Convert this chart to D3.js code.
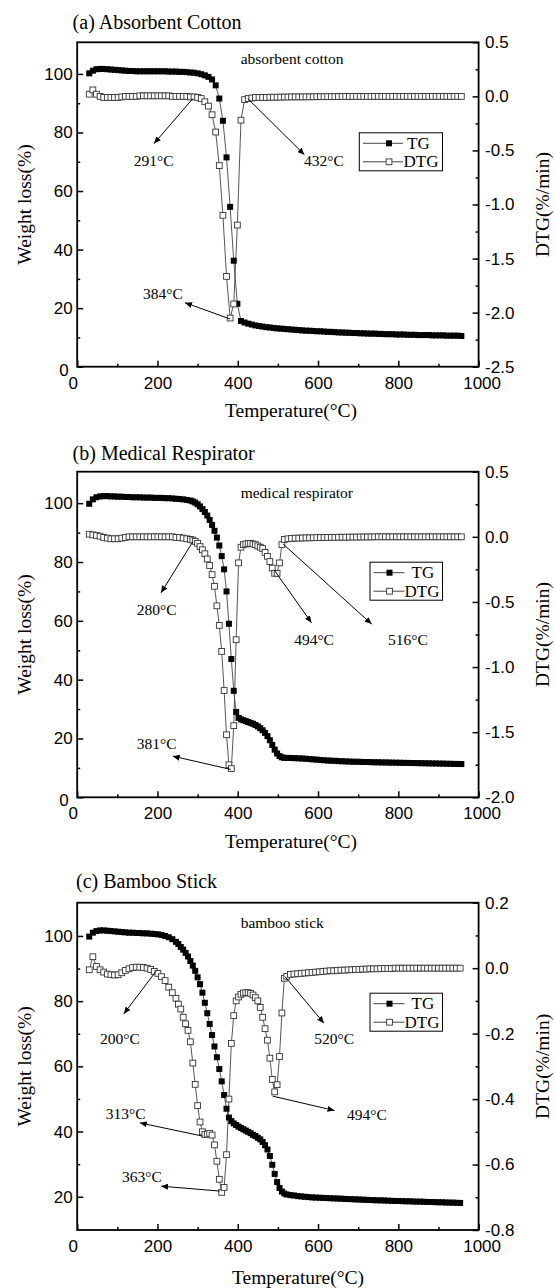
<!DOCTYPE html>
<html><head><meta charset="utf-8">
<script src="https://cdn.jsdelivr.net/npm/d3@7"></script>
<style>html,body{margin:0;padding:0;background:#fff;}svg{display:block;}</style>
</head><body>
<svg id="chart" width="555" height="1288"></svg>
<script>
// ---------------- DATA ----------------
const xTickValues = [0, 200, 400, 600, 800, 1000];
const leftTicksAB = [0, 20, 40, 60, 80, 100];
const leftTicksC = [20, 40, 60, 80, 100];
const rightTicksA = [0.5, 0.0, -0.5, -1.0, -1.5, -2.0, -2.5];
const rightTicksB = [0.5, 0.0, -0.5, -1.0, -1.5, -2.0];
const rightTicksC = [0.2, 0.0, -0.2, -0.4, -0.6, -0.8];
const seriesNames = ["TG", "DTG"];

// (a) Absorbent Cotton
const tempA = [30,39,48,57,66,75,84,93,102,111,
  120,129,138,147,156,165,174,183,192,201,
  210,219,228,237,246,255,264,273,282,291,
  300,309,318,327,336,345,354,363,372,381,
  390,399,408,417,426,435,444,453,462,471,
  480,489,498,507,516,525,534,543,552,561,
  570,579,588,597,606,615,624,633,642,651,
  660,669,678,687,696,705,714,723,732,741,
  750,759,768,777,786,795,804,813,822,831,
  840,849,858,867,876,885,894,903,912,921,
  930,939,948,957];
const tgA = [100.2,101.1,101.6,101.7,101.7,101.6,101.5,101.4,101.3,101.2,
  101.1,101.0,101.0,100.9,100.9,100.9,100.9,100.9,100.9,100.9,
  100.9,100.9,100.8,100.8,100.8,100.7,100.7,100.6,100.5,100.4,
  100.2,99.9,99.5,99.0,98.1,96.1,91.6,84.0,71.5,54.6,
  36.2,21.5,15.6,15.1,14.7,14.4,14.1,13.9,13.7,13.5,
  13.4,13.2,13.1,13.0,12.9,12.8,12.7,12.6,12.5,12.4,
  12.3,12.3,12.2,12.1,12.1,12.0,11.9,11.9,11.8,11.7,
  11.7,11.6,11.6,11.5,11.5,11.4,11.4,11.3,11.3,11.3,
  11.2,11.2,11.1,11.1,11.1,11.0,11.0,11.0,10.9,10.9,
  10.9,10.8,10.8,10.8,10.8,10.7,10.7,10.7,10.7,10.6,
  10.6,10.6,10.6,10.5];
const dtgA = [0.02,0.06,0.02,0.0,-0.01,-0.01,-0.01,-0.01,-0.01,-0.005,
  0.0,0.0,0.0,0.0,0.005,0.005,0.005,0.005,0.005,0.005,
  0.005,0.005,0.005,0.0,0.0,0.0,0.0,0.0,-0.005,-0.005,
  -0.01,-0.02,-0.05,-0.09,-0.17,-0.33,-0.64,-1.10,-1.665,-2.05,
  -1.92,-1.19,-0.22,-0.03,-0.02,-0.015,-0.01,-0.01,-0.01,-0.01,
  -0.008,-0.008,-0.007,-0.007,-0.006,-0.006,-0.005,-0.005,-0.005,-0.005,
  -0.004,-0.004,-0.004,-0.003,-0.003,-0.003,-0.002,-0.002,-0.002,-0.002,
  -0.001,-0.001,-0.001,-0.001,0.0,0.0,0.0,0.0,0.0,0.0,
  0.0,0.0,0.0,0.0,0.0,0.0,0.0,0.0,0.0,0.0,
  0.0,0.0,0.0,0.0,0.0,0.0,0.0,0.0,0.0,0.0,
  0.0,0.0,0.0,0.0];

// (b) Medical Respirator
const tempB = [30,39,48,57,66,75,84,93,102,111,
  120,129,138,147,156,165,174,183,192,201,
  210,219,228,237,246,255,264,273,282,
  288,294,300,306,312,318,324,330,336,342,
  348,354,360,366,372,378,384,390,396,402,
  408,414,420,426,432,438,444,450,456,462,
  468,474,480,486,492,498,504,510,516,
  525,534,543,552,561,570,579,588,597,606,
  615,624,633,642,651,660,669,678,687,696,
  705,714,723,732,741,750,759,768,777,786,
  795,804,813,822,831,840,849,858,867,876,
  885,894,903,912,921,930,939,948,957];
const tgB = [99.8,101.3,102.0,102.3,102.4,102.4,102.3,102.3,102.2,102.2,
  102.1,102.1,102.0,102.0,102.0,101.9,101.9,101.9,101.8,101.8,
  101.8,101.7,101.7,101.6,101.5,101.4,101.3,101.1,100.9,
  100.6,100.2,99.6,98.9,98.0,97.0,95.8,94.3,92.6,90.6,
  88.3,85.6,82.0,77.5,70.0,59.0,47.0,36.2,29.0,27.0,
  26.5,26.2,25.9,25.6,25.3,25.0,24.6,24.1,23.5,22.8,
  21.9,20.8,19.4,17.8,16.2,14.9,14.0,13.6,13.4,
  13.4,13.35,13.3,13.25,13.2,13.1,13.0,12.9,12.8,12.7,
  12.6,12.5,12.45,12.4,12.3,12.25,12.2,12.15,12.1,12.1,
  12.05,12.0,12.0,11.95,11.9,11.9,11.85,11.85,11.8,11.8,
  11.75,11.75,11.7,11.7,11.65,11.65,11.6,11.6,11.55,11.55,
  11.5,11.5,11.45,11.45,11.4,11.4,11.35,11.35,11.3];
const dtgB = [0.02,0.015,0.01,0.005,-0.005,-0.01,-0.015,-0.015,-0.015,-0.01,
  -0.005,0.0,0.0,0.0,0.0,0.0,0.0,0.0,0.0,0.0,
  0.0,0.0,0.0,0.0,-0.005,-0.005,-0.01,-0.015,-0.02,
  -0.025,-0.035,-0.05,-0.075,-0.10,-0.13,-0.17,-0.22,-0.29,-0.38,
  -0.53,-0.68,-0.88,-1.18,-1.52,-1.75,-1.78,-1.45,-0.79,-0.20,
  -0.08,-0.06,-0.055,-0.05,-0.05,-0.055,-0.06,-0.07,-0.08,-0.09,
  -0.12,-0.15,-0.19,-0.24,-0.28,-0.28,-0.20,-0.06,-0.02,
  -0.015,-0.012,-0.01,-0.01,-0.009,-0.008,-0.008,-0.007,-0.006,-0.006,
  -0.005,-0.005,-0.004,-0.004,-0.003,-0.003,-0.003,-0.002,-0.002,-0.002,
  -0.001,-0.001,-0.001,-0.001,0.0,0.0,0.0,0.0,0.0,0.0,
  0.0,0.0,0.0,0.0,0.0,0.0,0.0,0.0,0.0,0.0,
  0.0,0.0,0.0,0.0,0.0,0.0,0.0,0.0,0.0];

// (c) Bamboo Stick
const tempC = [30,39,48,57,66,75,84,93,102,111,
  120,129,138,147,156,165,174,183,192,201,
  210,219,228,237,246,
  252,258,264,270,276,282,288,294,300,306,
  312,318,324,330,336,342,348,354,360,366,
  372,378,384,390,396,402,408,414,420,426,
  432,438,444,450,456,462,468,474,480,486,
  492,498,504,510,516,522,
  531,540,549,558,567,576,585,594,603,612,
  621,630,639,648,657,666,675,684,693,702,
  711,720,729,738,747,756,765,774,783,792,
  801,810,819,828,837,846,855,864,873,882,
  891,900,909,918,927,936,945,954];
const tgC = [99.8,101.0,101.5,101.7,101.7,101.6,101.5,101.4,101.3,101.2,
  101.1,101.0,101.0,100.9,100.9,100.8,100.8,100.7,100.6,100.5,
  100.3,100.0,99.6,99.0,98.2,
  97.5,96.6,95.8,94.8,93.7,92.3,90.9,89.3,87.3,85.2,
  82.6,79.5,76.3,73.0,69.6,66.1,62.8,59.2,55.4,51.2,
  47.0,44.3,43.2,42.5,42.0,41.5,41.1,40.7,40.3,39.9,
  39.5,39.0,38.6,38.1,37.6,36.8,35.8,34.5,32.5,29.8,
  27.0,24.5,22.7,21.6,21.0,20.7,
  20.5,20.4,20.2,20.1,20.0,19.9,19.8,19.75,19.7,19.65,
  19.6,19.55,19.5,19.45,19.4,19.35,19.3,19.25,19.2,19.15,
  19.1,19.05,19.0,18.95,18.9,18.9,18.85,18.8,18.75,18.7,
  18.7,18.65,18.6,18.6,18.55,18.5,18.5,18.45,18.4,18.4,
  18.35,18.3,18.3,18.25,18.2,18.2,18.15,18.1];
const dtgC = [-0.005,0.035,0.005,-0.005,-0.012,-0.018,-0.02,-0.021,-0.02,-0.014,
  -0.007,-0.002,0.002,0.003,0.003,0.002,0.0,-0.004,-0.01,-0.016,
  -0.026,-0.038,-0.058,-0.075,-0.092,
  -0.11,-0.125,-0.15,-0.17,-0.19,-0.225,-0.29,-0.355,-0.42,-0.47,
  -0.50,-0.508,-0.507,-0.505,-0.51,-0.54,-0.59,-0.645,-0.685,-0.67,
  -0.57,-0.40,-0.23,-0.145,-0.10,-0.088,-0.08,-0.076,-0.075,-0.075,
  -0.077,-0.082,-0.09,-0.10,-0.12,-0.15,-0.185,-0.22,-0.275,-0.34,
  -0.378,-0.356,-0.27,-0.137,-0.031,-0.025,
  -0.019,-0.018,-0.017,-0.016,-0.015,-0.014,-0.013,-0.012,-0.011,-0.010,
  -0.009,-0.008,-0.008,-0.007,-0.006,-0.006,-0.005,-0.005,-0.004,-0.004,
  -0.003,-0.003,-0.002,-0.002,-0.002,-0.001,-0.001,-0.001,-0.001,0.0,
  0.0,0.0,0.0,0.0,0.0,0.0,0.0,0.0,0.0,0.0,
  0.0,0.0,0.0,0.0,0.0,0.0,0.0,0.0];

// ---------------- LAYOUT ----------------
const SANS = '"Liberation Sans", Arial, Helvetica, sans-serif';
const SERIF = '"Liberation Serif", "Times New Roman", Times, serif';
const plotLeft = 77.2, plotRight = 478.6;

const panels = [
  { title: "(a) Absorbent Cotton", titleX: 72.6, titleY: 28.5,
    top: 42.3, bottom: 366.7, yL: [0, 110.8], yR: [-2.5, 0.5],
    lTicks: leftTicksAB, lMinorStep: 10, rTicks: rightTicksA, rMinorStep: 0.25,
    temp: tempA, tg: tgA, dtg: dtgA,
    sample: "absorbent cotton", sampleY: 0.302,
    xTitleX: 291, xTitleY: 416.5,
    legend: { x: 359.3, w: 83.2, lx0: 363, lx1: 403, mx: 389, tgX: 407, dtgX: 403.5 },
    notes: [
      { text: "291°C", from: [288, -0.021], to: [191.3, -0.437], label: [190.3, -0.641] },
      { text: "432°C", from: [425, -0.021], to: [566, -0.539], label: [614.8, -0.641] },
      { text: "384°C", from: [381, -2.059], to: [268.6, -1.908], label: [213.8, -1.876] }
    ] },
  { title: "(b) Medical Respirator", titleX: 72.6, titleY: 459.5,
    top: 471.7, bottom: 797.3, yL: [0, 110.7], yR: [-2.0, 0.5],
    lTicks: leftTicksAB, lMinorStep: 10, rTicks: rightTicksB, rMinorStep: 0.25,
    temp: tempB, tg: tgB, dtg: dtgB,
    sample: "medical respirator", sampleY: 0.297,
    xTitleX: 291, xTitleY: 848,
    legend: { x: 370, w: 72.5, lx0: 373.5, lx1: 404.5, mx: 389.5, tgX: 411.5, dtgX: 404.5 },
    notes: [
      { text: "280°C", from: [288, -0.038], to: [208.8, -0.430], label: [197.8, -0.601] },
      { text: "494°C", from: [491, -0.256], to: [583.7, -0.660], label: [590, -0.832] },
      { text: "516°C", from: [513.2, -0.056], to: [733.7, -0.670], label: [824, -0.832] },
      { text: "381°C", from: [382.7, -1.786], to: [238, -1.684], label: [197.8, -1.630] }
    ] },
  { title: "(c) Bamboo Stick", titleX: 76, titleY: 888,
    top: 902.7, bottom: 1230, yL: [9.8, 110.2], yR: [-0.8, 0.2],
    lTicks: leftTicksC, lMinorStep: 10, rTicks: rightTicksC, rMinorStep: 0.1,
    temp: tempC, tg: tgC, dtg: dtgC,
    sample: "bamboo stick", sampleY: 0.123,
    xTitleX: 298, xTitleY: 1284,
    legend: { x: 370, w: 72.5, lx0: 373.5, lx1: 404.5, mx: 389.5, tgX: 411.5, dtgX: 404.5 },
    notes: [
      { text: "200°C", from: [195.8, -0.0104], to: [116.3, -0.1396], label: [106.6, -0.2313] },
      { text: "520°C", from: [517.7, -0.0257], to: [614.6, -0.168], label: [640.3, -0.2313] },
      { text: "313°C", from: [312.2, -0.513], to: [156, -0.4727], label: [120.8, -0.4604] },
      { text: "363°C", from: [354.5, -0.681], to: [208.8, -0.666], label: [161.4, -0.653] },
      { text: "494°C", from: [486.8, -0.391], to: [641, -0.435], label: [721.7, -0.463] }
    ] }
];

// ---------------- DRAW ----------------
const svg = d3.select("#chart");
svg.append("rect").attr("width", 555).attr("height", 1288).attr("fill", "#fff");

svg.append("defs").append("marker")
  .attr("id", "arrowhead").attr("markerUnits", "userSpaceOnUse")
  .attr("markerWidth", 8).attr("markerHeight", 6)
  .attr("refX", 7).attr("refY", 3).attr("orient", "auto")
  .append("path").attr("d", "M0,0 L7,3 L0,6 Z").attr("fill", "#000");

const x = d3.scaleLinear().domain([0, 1000]).range([plotLeft, plotRight]);
const fmt1 = d => d.toFixed(1);

panels.forEach(p => {
  const g = svg.append("g");
  const yL = d3.scaleLinear().domain(p.yL).range([p.bottom, p.top]);
  const yR = d3.scaleLinear().domain(p.yR).range([p.bottom, p.top]);
  const pts = p.temp.map((t, i) => ({ t: t, w: p.tg[i], d: p.dtg[i] }));

  // lines
  g.append("path").datum(pts)
    .attr("d", d3.line().x(d => x(d.t)).y(d => yL(d.w)))
    .attr("fill", "none").attr("stroke", "#444").attr("stroke-width", 0.9);
  g.append("path").datum(pts)
    .attr("d", d3.line().x(d => x(d.t)).y(d => yR(d.d)))
    .attr("fill", "none").attr("stroke", "#444").attr("stroke-width", 0.9);

  // markers
  const sT = 6, sD = 5.8;
  g.append("g").selectAll("rect").data(pts).join("rect")
    .attr("x", d => x(d.t) - sT / 2).attr("y", d => yL(d.w) - sT / 2)
    .attr("width", sT).attr("height", sT).attr("fill", "#000");
  g.append("g").selectAll("rect").data(pts).join("rect")
    .attr("x", d => x(d.t) - sD / 2).attr("y", d => yR(d.d) - sD / 2)
    .attr("width", sD).attr("height", sD).attr("fill", "#fff")
    .attr("stroke", "#333").attr("stroke-width", 0.9);

  // frame
  g.append("rect").attr("x", plotLeft).attr("y", p.top)
    .attr("width", plotRight - plotLeft).attr("height", p.bottom - p.top)
    .attr("fill", "none").attr("stroke", "#000").attr("stroke-width", 1.8);

  // axes
  const styleAxis = sel => {
    sel.select(".domain").remove();
    sel.selectAll("line").attr("stroke", "#000").attr("stroke-width", 1.5);
    sel.selectAll("text").attr("fill", "#000").style("font-family", SANS).style("font-size", "17px");
  };
  // bottom
  const xMinor = d3.range(100, 1000, 200);
  const gxMinor = g.append("g").attr("transform", `translate(0,${p.bottom})`)
    .call(d3.axisBottom(x).tickValues(xMinor).tickSize(-3).tickSizeOuter(0).tickFormat(""));
  styleAxis(gxMinor);
  const gx = g.append("g").attr("transform", `translate(0,${p.bottom})`)
    .call(d3.axisBottom(x).tickValues(xTickValues).tickSize(-6).tickSizeOuter(0).tickPadding(10).tickFormat(d3.format("d")));
  styleAxis(gx);
  gx.selectAll(".tick text").attr("dx", d => d === 0 ? -4.5 : (d === 1000 ? 3 : 0));

  // left
  const lMin = [];
  for (let v = Math.ceil(p.yL[0] / p.lMinorStep) * p.lMinorStep; v <= p.yL[1]; v += p.lMinorStep) {
    if (!p.lTicks.includes(v) && Math.abs(yL(v) - p.top) > 3 && Math.abs(yL(v) - p.bottom) > 3) lMin.push(v);
  }
  const gyMinor = g.append("g").attr("transform", `translate(${plotLeft},0)`)
    .call(d3.axisLeft(yL).tickValues(lMin).tickSize(-3).tickSizeOuter(0).tickFormat(""));
  styleAxis(gyMinor);
  const gy = g.append("g").attr("transform", `translate(${plotLeft},0)`)
    .call(d3.axisLeft(yL).tickValues(p.lTicks).tickSize(-6).tickSizeOuter(0).tickPadding(4.5).tickFormat(d3.format("d")));
  styleAxis(gy);
  gy.selectAll(".tick text").attr("dx", d => d === 0 ? -4 : 0).attr("dy", d => d === 0 ? "0.5em" : "0.32em");

  // right
  const rMin = [];
  const nR = Math.round((p.yR[1] - p.yR[0]) / p.rMinorStep);
  for (let i = 1; i < nR; i += 2) rMin.push(+(p.yR[0] + i * p.rMinorStep).toFixed(3));
  const gyrMinor = g.append("g").attr("transform", `translate(${plotRight},0)`)
    .call(d3.axisRight(yR).tickValues(rMin).tickSize(-3).tickSizeOuter(0).tickFormat(""));
  styleAxis(gyrMinor);
  const gyr = g.append("g").attr("transform", `translate(${plotRight},0)`)
    .call(d3.axisRight(yR).tickValues(p.rTicks).tickSize(-6).tickSizeOuter(0).tickPadding(6.5).tickFormat(fmt1));
  styleAxis(gyr);

  // titles
  g.append("text").attr("x", p.titleX).attr("y", p.titleY)
    .style("font-family", SERIF).style("font-size", "20px").text(p.title);
  g.append("text").attr("x", p.xTitleX).attr("y", p.xTitleY).attr("text-anchor", "middle")
    .style("font-family", SERIF).style("font-size", "19.5px").text("Temperature(°C)");
  const cy = (p.top + p.bottom) / 2;
  g.append("text").attr("transform", `translate(31,${cy}) rotate(-90)`).attr("text-anchor", "middle")
    .style("font-family", SERIF).style("font-size", "19.5px").text("Weight loss(%)");
  g.append("text").attr("transform", `translate(548.5,${cy}) rotate(-90)`).attr("text-anchor", "middle")
    .style("font-family", SERIF).style("font-size", "19.5px").text("DTG(%/min)");

  // sample name
  g.append("text").attr("x", x(407.3)).attr("y", yR(p.sampleY))
    .style("font-family", SERIF).style("font-size", "15.5px").text(p.sample);

  // annotations
  p.notes.forEach(n => {
    g.append("line")
      .attr("x1", x(n.from[0])).attr("y1", yR(n.from[1]))
      .attr("x2", x(n.to[0])).attr("y2", yR(n.to[1]))
      .attr("stroke", "#000").attr("stroke-width", 1)
      .attr("marker-end", "url(#arrowhead)");
    g.append("text").attr("x", x(n.label[0])).attr("y", yR(n.label[1]))
      .attr("text-anchor", "middle")
      .style("font-family", SERIF).style("font-size", "15.5px").text(n.text);
  });

  // legend
  const L = p.legend;
  const ly = p.top + 90.5;
  g.append("rect").attr("x", L.x).attr("y", ly).attr("width", L.w).attr("height", 38)
    .attr("fill", "#fff").attr("stroke", "#000").attr("stroke-width", 1);
  const rows = [ly + 10.5, ly + 29];
  seriesNames.forEach((name, i) => {
    const yy = rows[i];
    g.append("line").attr("x1", L.lx0).attr("x2", L.lx1).attr("y1", yy).attr("y2", yy)
      .attr("stroke", "#444").attr("stroke-width", 1);
    if (i === 0) {
      g.append("rect").attr("x", L.mx - sT / 2).attr("y", yy - sT / 2).attr("width", sT).attr("height", sT).attr("fill", "#000");
    } else {
      g.append("rect").attr("x", L.mx - sD / 2).attr("y", yy - sD / 2).attr("width", sD).attr("height", sD)
        .attr("fill", "#fff").attr("stroke", "#333").attr("stroke-width", 0.9);
    }
    g.append("text").attr("x", i === 0 ? L.tgX : L.dtgX).attr("y", yy + 5.5)
      .style("font-family", SERIF).style("font-size", "17px").text(name);
  });
});
</script>
</body></html>
